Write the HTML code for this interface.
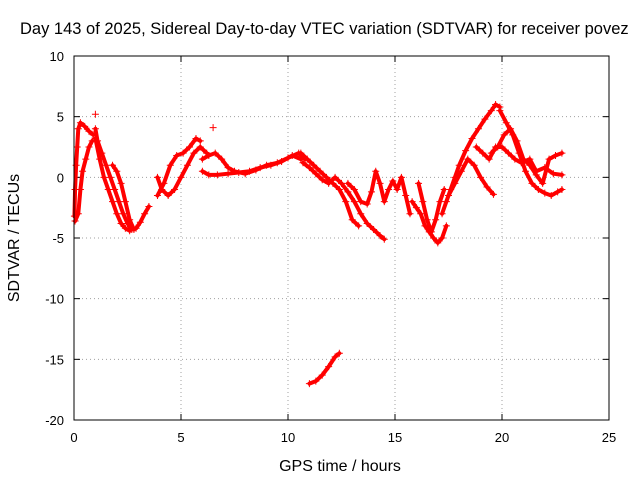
<!DOCTYPE html>
<html><head><meta charset="utf-8"><style>
html,body{margin:0;padding:0;background:#fff;}
svg{display:block;font-family:"Liberation Sans",sans-serif;font-size:13px;}
</style></head><body>
<svg id="chart" width="640" height="480">
<rect x="0" y="0" width="640" height="480" fill="#fff"/>
<text x="20" y="34" style="font-size:16.5px">Day 143 of 2025, Sidereal Day-to-day VTEC variation (SDTVAR) for receiver povez</text>
<g id="grid"></g>
<g id="ticks"></g>
<g id="series"></g>
<rect x="74" y="56" width="535" height="364" fill="none" stroke="#000" stroke-width="1"/>
<text x="340" y="471" text-anchor="middle" style="font-size:16px">GPS time / hours</text>
<text transform="translate(19,238) rotate(-90)" text-anchor="middle" style="font-size:16px">SDTVAR / TECUs</text>
</svg>
<script>
const xTicks=[0,5,10,15,20,25];
const yTicks=[10,5,0,-5,-10,-15,-20];
const tracks=[
[[0.02,-3.2],[0.05,-1],[0.1,1],[0.15,2.5],[0.2,4],[0.3,4.5],[0.5,4.2],[0.7,3.8],[0.9,3.5]],
[[0.05,-3.6],[0.2,-3],[0.3,-1],[0.4,0.5],[0.55,1.5],[0.7,2.5],[0.85,3]],
[[1.0,4],[1.1,3],[1.3,2],[1.5,1],[1.7,0],[1.9,-1],[2.1,-2],[2.3,-3],[2.5,-3.8],[2.7,-4.3],[2.9,-4.2],[3.1,-3.7],[3.3,-3],[3.5,-2.4]],
[[1.0,3.2],[1.2,1.5],[1.4,0],[1.6,-1],[1.8,-2],[2.0,-3],[2.2,-3.8],[2.4,-4.2],[2.6,-4.4]],
[[1.8,1],[2.0,0.5],[2.2,-0.5],[2.4,-2],[2.6,-3.5],[2.8,-4.3]],
[[3.9,0],[4.1,-1],[4.4,-1.5],[4.7,-1],[5.0,0],[5.3,1],[5.6,2],[5.9,2.5],[6.2,2]],
[[3.9,-1.5],[4.2,-0.5],[4.5,1],[4.8,1.8],[5.1,2],[5.4,2.5],[5.7,3.2],[5.9,3]],
[[6.0,1.5],[6.3,1.8],[6.6,2],[6.9,1.5],[7.2,0.8],[7.5,0.5],[8,0.3],[8.5,0.6],[9,1],[9.5,1.2],[10,1.6],[10.5,2],[10.8,1.5]],
[[6.0,0.5],[6.3,0.2],[6.7,0.2],[7.2,0.3],[7.7,0.4],[8.2,0.5],[8.7,0.8],[9.2,1],[9.7,1.3],[10.2,1.8],[10.6,1.5]],
[[10.6,2],[10.9,1.5],[11.2,1],[11.5,0.5],[11.8,0],[12.1,-0.5],[12.4,-1],[12.7,-2],[13,-3.5],[13.3,-4]],
[[10.7,1.2],[11,0.8],[11.3,0.3],[11.6,-0.2],[11.9,-0.5],[12.2,0],[12.5,-0.5],[12.8,-1.2],[13.1,-2],[13.4,-3],[13.7,-3.8],[14,-4.3],[14.3,-4.8],[14.5,-5.1]],
[[12.8,-0.5],[13.1,-1],[13.4,-2],[13.7,-2.2],[13.9,-1.2],[14.1,0.5],[14.3,-0.5],[14.5,-2],[14.7,-1],[14.9,-0.3],[15.1,-1],[15.3,0],[15.5,-1.5],[15.7,-3]],
[[15.8,-2],[16.0,-2.5],[16.2,-3],[16.4,-4],[16.6,-4.5],[16.8,-5],[17.0,-5.4],[17.2,-5],[17.4,-4]],
[[16.1,-0.5],[16.3,-2],[16.5,-3.5],[16.7,-4.5],[16.9,-3.5],[17.1,-2],[17.3,-1]],
[[17.2,-3],[17.4,-2],[17.6,-1],[17.8,0],[18,1],[18.3,2.2],[18.6,3.2],[18.9,4],[19.2,4.8],[19.5,5.5],[19.7,6],[19.9,5.8]],
[[17.5,-1.5],[17.8,-0.5],[18.1,0.5],[18.4,1.5],[18.7,1],[19,0],[19.3,-0.8],[19.6,-1.4]],
[[19.9,5.5],[20.2,4.5],[20.5,3.5],[20.8,2],[21.1,0.5],[21.4,-0.5],[21.7,-1],[22,-1.3],[22.3,-1.5],[22.6,-1.2],[22.8,-1]],
[[19.5,2],[19.8,2.5],[20.1,3.5],[20.4,4],[20.7,3],[21,1.5],[21.3,1],[21.6,0.2],[21.9,-0.5],[22.2,1.5],[22.5,1.8],[22.8,2]],
[[18.8,2.5],[19.1,2],[19.4,1.5],[19.7,2.5],[20,2.5],[20.3,2],[20.6,1.5],[20.9,1.2],[21.3,1.5],[21.6,0.5],[22,0.8],[22.4,0.3],[22.8,0.2]],
[[11.0,-17],[11.3,-16.8],[11.6,-16.3],[11.9,-15.6],[12.2,-14.8],[12.4,-14.5]]
];
const outliers=[[1.0,5.2],[6.5,4.1]];

const NS="http://www.w3.org/2000/svg";
const X0=74,X1=609,Y0=420,Y1=56;
const sx=t=>X0+(t-0)/(25-0)*(X1-X0);
const sy=v=>Y0-(v+20)/30*(Y0-Y1);
function mk(tag,attrs,parent){const e=document.createElementNS(NS,tag);for(const k in attrs)e.setAttribute(k,attrs[k]);parent.appendChild(e);return e;}
const grid=document.getElementById('grid'),ticks=document.getElementById('ticks'),series=document.getElementById('series');
xTicks.forEach(t=>{
  const x=sx(t);
  if(t>0&&t<25){const g=mk('line',{x1:x,x2:x,y1:Y1,y2:Y0,stroke:'#a0a0a0','stroke-dasharray':'1,3'},grid);
  
  }
  mk('line',{x1:x,x2:x,y1:Y0,y2:Y0-6,stroke:'#000'},ticks);
  mk('line',{x1:x,x2:x,y1:Y1,y2:Y1+6,stroke:'#000'},ticks);
  const l=mk('text',{x:x,y:Y0+22,'text-anchor':'middle'},ticks);l.textContent=t;
  
  
});
yTicks.forEach(v=>{
  const y=sy(v);
  if(v>-20&&v<10){const g=mk('line',{x1:X0,x2:X1,y1:y,y2:y,stroke:'#a0a0a0','stroke-dasharray':'1,3'},grid);
  
  }
  mk('line',{x1:X0,x2:X0+6,y1:y,y2:y,stroke:'#000'},ticks);
  mk('line',{x1:X1,x2:X1-6,y1:y,y2:y,stroke:'#000'},ticks);
  const l=mk('text',{x:X0-10,y:y+5,'text-anchor':'end'},ticks);l.textContent=v;
  
  
});
function plus(t,v){
  const x=sx(t),y=sy(v);
  const p=mk('path',{d:`M${x-3.5},${y}H${x+3.5}M${x},${y-3.5}V${y+3.5}`,stroke:'#f00','stroke-width':1},series);
  
  
}
tracks.forEach(tr=>{
  const pl=mk('polyline',{points:tr.map(p=>sx(p[0])+','+sy(p[1])).join(' '),fill:'none',stroke:'#f00','stroke-width':4,'stroke-linejoin':'round','stroke-linecap':'round'},series);
  
  
  tr.forEach(p=>plus(p[0],p[1]));
});
outliers.forEach(p=>plus(p[0],p[1]));
</script>
</body></html>
